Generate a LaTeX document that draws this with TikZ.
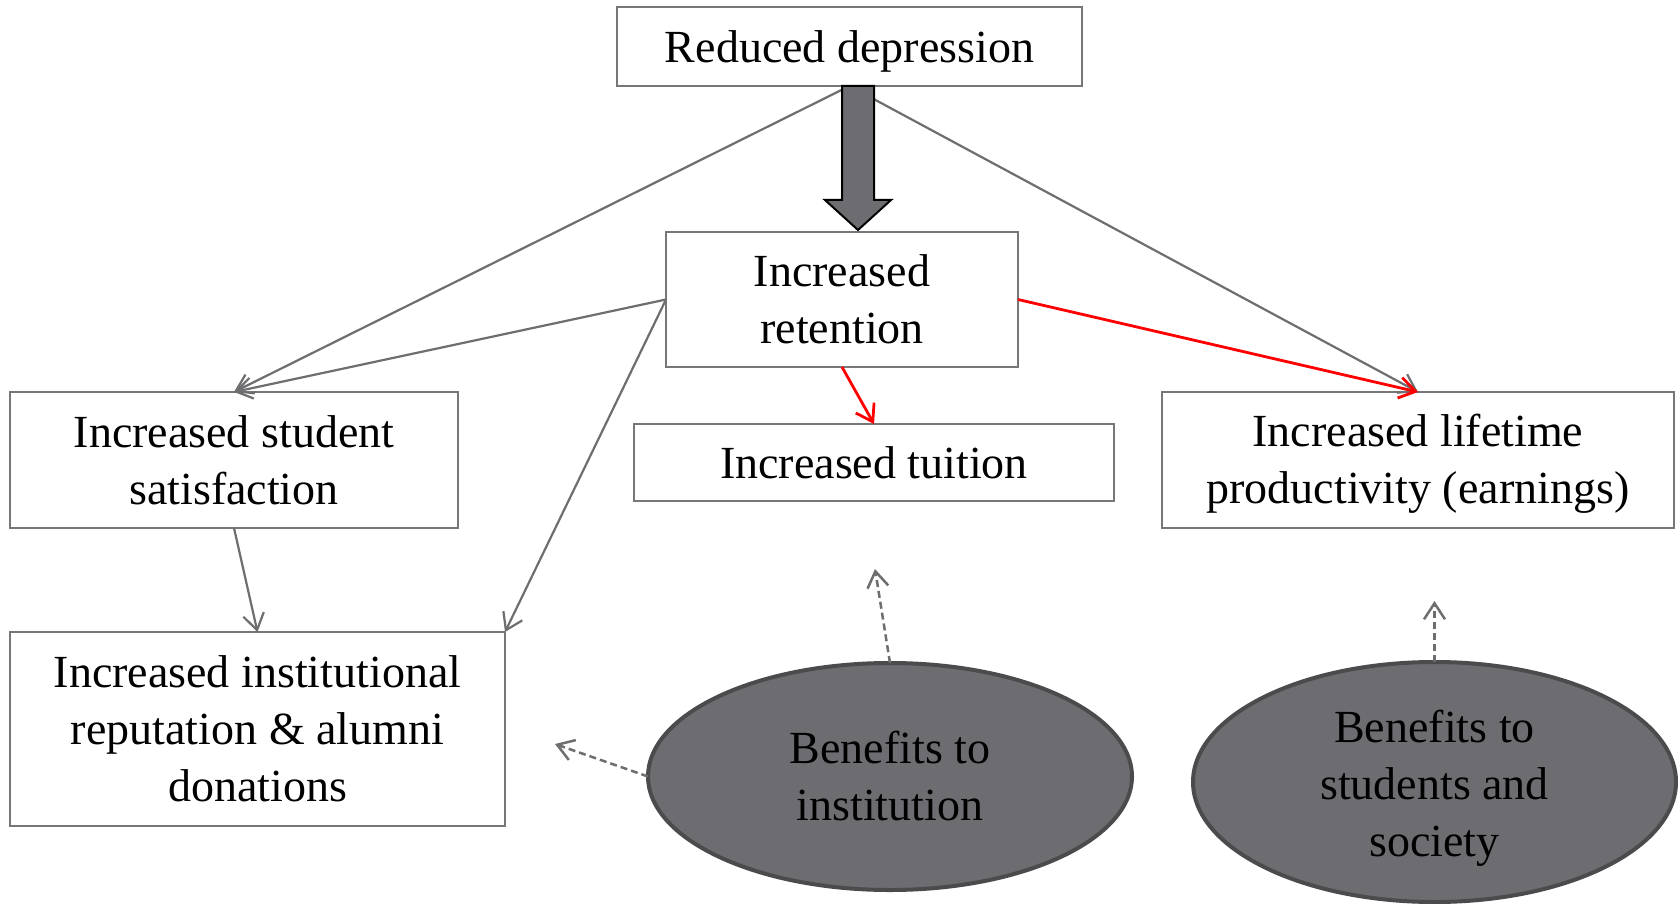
\documentclass[tikz,border=0pt]{standalone}
\usepackage{fontspec}
\setmainfont{Liberation Serif}
\usetikzlibrary{arrows.meta,shapes.geometric,calc}
\definecolor{boxgray}{HTML}{77777A}
\definecolor{linegray}{HTML}{6E6E70}
\definecolor{ellfill}{HTML}{6D6C71}
\definecolor{elldraw}{HTML}{4B4B4D}
\begin{document}
\begin{tikzpicture}[x=1pt,y=-1pt,
  txt/.style={font=\fontsize{46}{57}\selectfont, align=center},
  box/.style={txt, draw=boxgray, line width=2pt, fill=white, inner sep=0pt, outer sep=0pt},
  ell/.style={txt, ellipse, draw=elldraw, line width=4pt, fill=ellfill, inner sep=0pt, outer sep=0pt},
  barb/.style={-{Straight Barb[length=16pt,width=21pt]}},
  conn/.style={barb, draw=linegray, line width=2.2pt},
  redconn/.style={barb, draw=red, line width=2.8pt},
  dconn/.style={barb, draw=linegray, line width=2.5pt, dash pattern=on 7pt off 4pt},
  bigarrow/.style={draw=black, line width=2pt, fill=ellfill, line join=miter}]
\useasboundingbox[fill=white] (0,0) rectangle (1678,904);

\node[box, minimum width=465pt, minimum height=79pt] (rd) at (849.5,46.5) {\rule{0pt}{42.5pt}Reduced depression};
\node[box, minimum width=352pt, minimum height=135pt] (ret) at (842,299.5) {Increased\\retention};
\node[box, minimum width=448pt, minimum height=136pt] (sat) at (234,460) {Increased student\\satisfaction};
\node[box, minimum width=480pt, minimum height=77pt] (tui) at (874,462.5) {Increased tuition};
\node[box, minimum width=512pt, minimum height=136pt] (life) at (1418,460) {\rule{0pt}{40pt}Increased lifetime\\productivity (earnings)};
\node[box, minimum width=495pt, minimum height=194pt] (rep) at (257.5,729) {Increased institutional\\reputation \& alumni\\donations};
\node[ell, minimum width=484pt, minimum height=227pt] (e1) at (890,776.5) {Benefits to\\institution};
\node[ell, minimum width=483pt, minimum height=240pt] (e2) at (1434.5,782) {\rule{0pt}{44.5pt}Benefits to\\students and\\society};

% connectors from Reduced depression
\draw[conn] (rd.south) -- (sat.north);
\draw[conn] (rd.south) -- (life.north);
% big block arrow
\draw[bigarrow] (842,86) -- (842,200) -- (825,200) -- (858,230) -- (891,200) -- (874,200) -- (874,86) -- cycle;

% from retention
\draw[conn] (ret.west) -- (sat.north);
\draw[conn] (ret.west) -- (rep.north east);
\draw[conn] (sat.south) -- (rep.north);
\draw[redconn] (ret.south) -- (tui.north);
\draw[redconn] (ret.east) -- (life.north);

% dashed from benefits
\coordinate (d1) at (875,569);
\coordinate (d2) at (555,744);
\coordinate (d3) at (1434.5,601);
\draw[dconn] (e1.north) -- (d1);
\draw[dconn] (e1.west) -- (d2);
\draw[dconn] (e2.north) -- (d3);
\end{tikzpicture}
\end{document}
